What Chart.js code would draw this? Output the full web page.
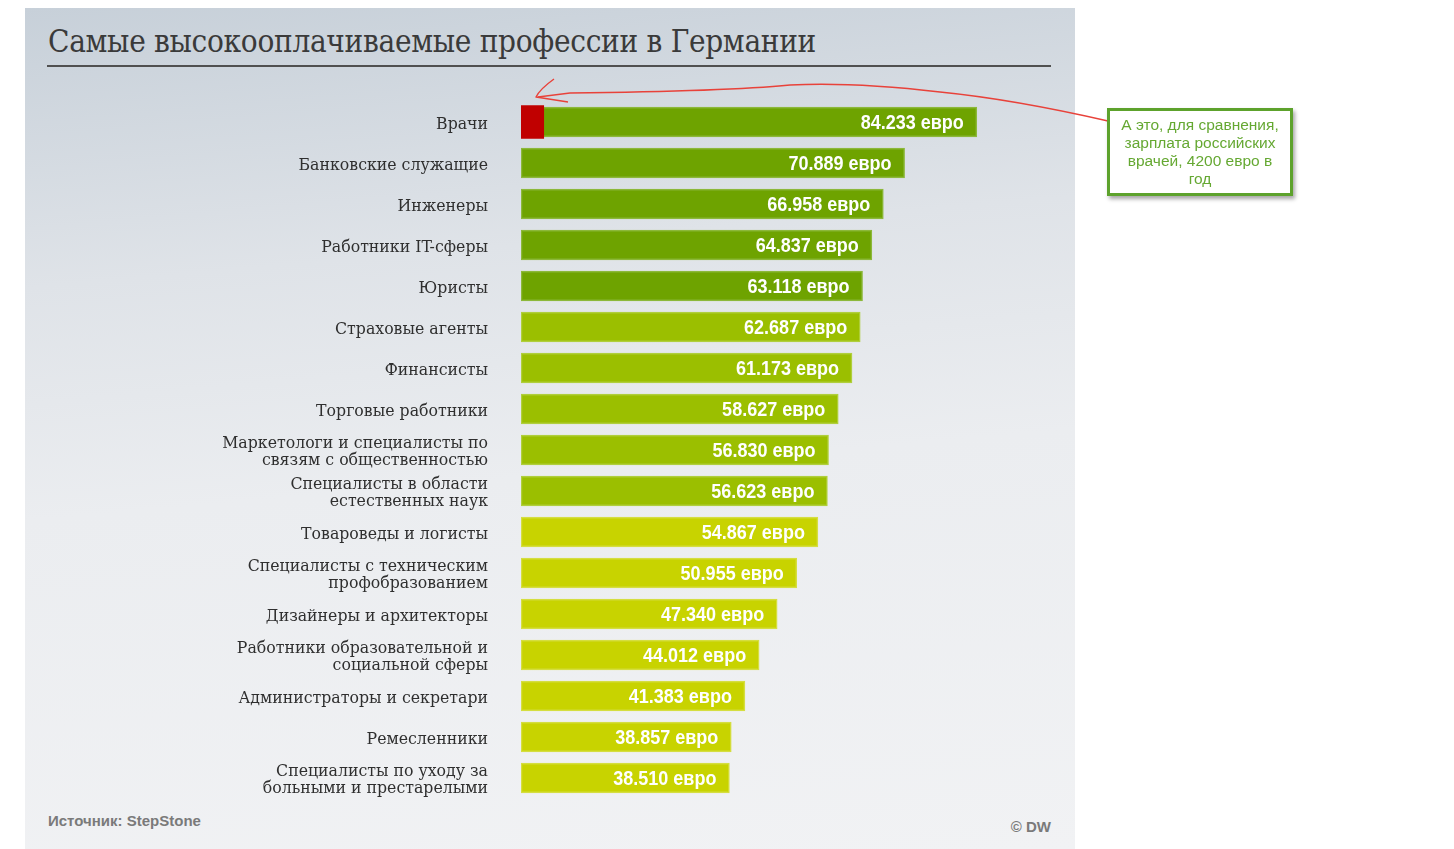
<!DOCTYPE html>
<html><head><meta charset="utf-8">
<script src="https://cdn.jsdelivr.net/npm/chart.js@4"></script>
<style>
html,body{margin:0;padding:0;background:#fff;width:1454px;height:849px;overflow:hidden;}
#panel{position:absolute;left:25px;top:8px;width:1050px;height:841px;
 background:linear-gradient(175deg,#c7d0d9 0%,#dfe3e8 30%,#ebedf0 55%,#f1f2f4 100%);}
#title{position:absolute;left:48px;top:23px;font-family:"DejaVu Serif Condensed","Liberation Serif",serif;font-size:31.2px;color:#3a3a3a;white-space:nowrap;letter-spacing:-0.3px;}
#rule{position:absolute;left:47px;top:65px;width:1004px;height:2px;background:#505050;}
#src{position:absolute;left:48px;top:812px;font-family:"Liberation Sans Narrow","Liberation Sans",sans-serif;font-weight:bold;font-size:15px;color:#7a7a7a;}
#dw{position:absolute;right:403px;top:818px;font-family:"Liberation Sans Narrow","Liberation Sans",sans-serif;font-weight:bold;font-size:15px;color:#7a7a7a;}
#note{position:absolute;left:1107px;top:108px;width:180px;height:82px;border:3px solid #5da22c;background:#fff;
 box-shadow:2px 3px 4px rgba(0,0,0,0.35);font-family:"Liberation Sans",Arial,sans-serif;font-size:15.5px;line-height:18px;color:#65a832;text-align:center;white-space:nowrap;}
#note div{margin-top:5px;}
#c{position:absolute;left:0;top:0;}
</style></head>
<body>
<div id="panel"></div>
<div id="title">Самые высокооплачиваемые профессии в Германии</div>
<div id="rule"></div>
<div id="src">Источник: StepStone</div>
<div id="dw">© DW</div>
<canvas id="c" width="1454" height="849"></canvas>
<div id="note"><div>А это, для сравнения,<br>зарплата российских<br>врачей, 4200 евро в<br>год</div></div>
<script>
const categories = [
  ["Врачи"],
  ["Банковские служащие"],
  ["Инженеры"],
  ["Работники IT-сферы"],
  ["Юристы"],
  ["Страховые агенты"],
  ["Финансисты"],
  ["Торговые работники"],
  ["Маркетологи и специалисты по","связям с общественностью"],
  ["Специалисты в области","естественных наук"],
  ["Товароведы и логисты"],
  ["Специалисты с техническим","профобразованием"],
  ["Дизайнеры и архитекторы"],
  ["Работники образовательной и","социальной сферы"],
  ["Администраторы и секретари"],
  ["Ремесленники"],
  ["Специалисты по уходу за","больными и престарелыми"]
];
const salaries = [84233,70889,66958,64837,63118,62687,61173,58627,56830,56623,54867,50955,47340,44012,41383,38857,38510];
const valueLabels = ["84.233 евро","70.889 евро","66.958 евро","64.837 евро","63.118 евро","62.687 евро","61.173 евро","58.627 евро","56.830 евро","56.623 евро","54.867 евро","50.955 евро","47.340 евро","44.012 евро","41.383 евро","38.857 евро","38.510 евро"];
const russianDoctors = [4200,null,null,null,null,null,null,null,null,null,null,null,null,null,null,null,null];
const colorGroups = ["#6ea300","#6ea300","#6ea300","#6ea300","#6ea300","#9bbf00","#9bbf00","#9bbf00","#9bbf00","#9bbf00","#c8d300","#c8d300","#c8d300","#c8d300","#c8d300","#c8d300","#c8d300"];
const borderGroups = ["#8cb83a","#8cb83a","#8cb83a","#8cb83a","#8cb83a","#b0cf3c","#b0cf3c","#b0cf3c","#b0cf3c","#b0cf3c","#d5de40","#d5de40","#d5de40","#d5de40","#d5de40","#d5de40","#d5de40"];

const valuePlugin = {
  id:'values',
  afterDatasetsDraw(chart){
    const ctx = chart.ctx;
    const meta = chart.getDatasetMeta(1);
    ctx.save();
    ctx.font = 'bold 20px "Liberation Sans Narrow","Liberation Sans",sans-serif';
    ctx.fillStyle = '#ffffff';
    ctx.textAlign = 'right';
    ctx.textBaseline = 'middle';
    const sx = 0.9;
    meta.data.forEach((bar,i)=>{
      ctx.save();
      ctx.translate(bar.x - 13, bar.y + 1);
      ctx.scale(sx, 1);
      ctx.fillText(valueLabels[i], 0, 0);
      ctx.restore();
    });
    ctx.restore();
  }
};
const arrowPlugin = {
  id:'arrow',
  afterDraw(chart){
    const ctx = chart.ctx;
    const bar = chart.getDatasetMeta(1).data[0];
    const left = chart.chartArea.left;
    const top = bar.y - 15;
    ctx.save();
    ctx.strokeStyle = '#e8423a';
    ctx.lineWidth = 1.4;
    ctx.lineJoin = 'round';
    ctx.beginPath();
    const tx = left + 15, ty = top - 10;
    ctx.moveTo(1108, 121);
    ctx.bezierCurveTo(1060, 110, 1000, 98, 940, 92);
    ctx.bezierCurveTo(880, 85, 830, 83, 790, 85);
    ctx.bezierCurveTo(740, 90, 660, 92, 570, 93);
    ctx.lineTo(tx + 2, ty);
    ctx.stroke();
    ctx.beginPath();
    ctx.moveTo(tx + 18, ty - 18);
    ctx.quadraticCurveTo(tx + 4, ty - 8, tx, ty);
    ctx.lineTo(tx + 32, ty + 5);
    ctx.stroke();
    ctx.restore();
  }
};

new Chart(document.getElementById('c'), {
  type:'bar',
  data:{
    labels:categories,
    datasets:[
      {data:russianDoctors, backgroundColor:'#c00000', borderWidth:0, grouped:false, order:0, barThickness:33},
      {data:salaries, backgroundColor:colorGroups, borderColor:borderGroups, borderWidth:1.5, borderSkipped:false, grouped:false, order:1, barThickness:30}
    ]
  },
  options:{
    indexAxis:'y',
    responsive:false,
    animation:false,
    events:[],
    layout:{padding:{left:0,right:446,top:101.5,bottom:50.5}},
    plugins:{legend:{display:false},tooltip:{enabled:false},title:{display:false}},
    scales:{
      x:{display:false,min:0,max:90000},
      y:{
        grid:{display:false,drawTicks:false},
        border:{display:false},
        ticks:{padding:33,labelOffset:2,color:'#2f2f2f',font:{family:'"DejaVu Serif Condensed","Liberation Serif",serif',size:17.5,lineHeight:1.0}},
        afterFit(scale){scale.width = 521;}
      }
    }
  },
  plugins:[valuePlugin, arrowPlugin]
});
</script>
</body></html>
